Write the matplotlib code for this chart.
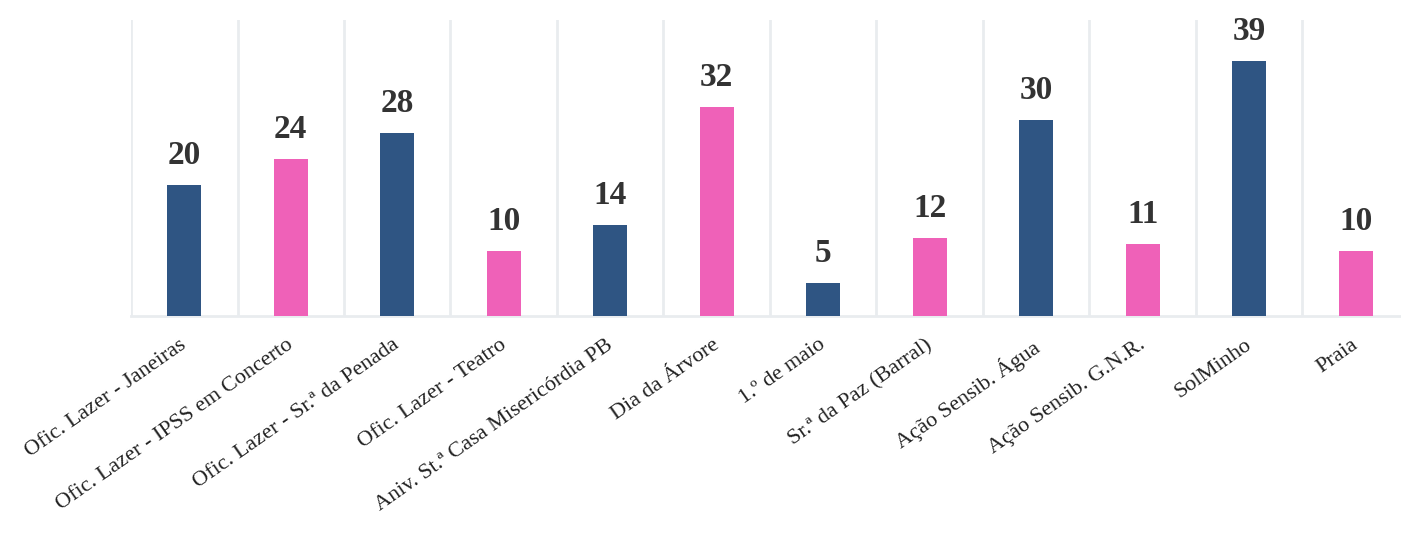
import matplotlib
matplotlib.use("Agg")
import matplotlib.pyplot as plt
import matplotlib.transforms as mtransforms

categories = [
    "Ofic. Lazer - Janeiras",
    "Ofic. Lazer - IPSS em Concerto",
    "Ofic. Lazer - Sr.ª da Penada",
    "Ofic. Lazer - Teatro",
    "Aniv. St.ª Casa Misericórdia PB",
    "Dia da Árvore",
    "1.º de maio",
    "Sr.ª da Paz (Barral)",
    "Ação Sensib. Água",
    "Ação Sensib. G.N.R.",
    "SolMinho",
    "Praia",
]
values = [20, 24, 28, 10, 14, 32, 5, 12, 30, 11, 39, 10]
bar_colors = ["#2F5583", "#EF61B8", "#2F5583", "#EF61B8", "#2F5583", "#EF61B8",
              "#2F5583", "#EF61B8", "#2F5583", "#EF61B8", "#2F5583", "#EF61B8"]

plt.rcParams['font.family'] = ['Liberation Serif', 'DejaVu Serif']

fig = plt.figure(figsize=(14.01, 5.33), dpi=100)
ax = fig.add_axes([131 / 1401, (533 - 316) / 533, 1278 / 1401, 296 / 533])

x = list(range(len(categories)))
bars = ax.bar(x, values, width=0.32, color=bar_colors, zorder=3)

for rect, v in zip(bars, values):
    ax.annotate(str(v), (rect.get_x() + rect.get_width() / 2, v),
                xytext=(0, 10), textcoords="offset points",
                ha="center", va="bottom", fontsize=24, fontweight="bold",
                color="#333333")

ax.set_xlim(-0.5, len(categories) - 0.5)
ax.set_ylim(0, 45.3)

# vertical separators between categories
for b in range(len(categories) + 1):
    ax.axvline(b - 0.5, color="#E9ECEF", lw=2, zorder=1)

ax.set_xticks(x)
ax.set_xticklabels(categories, rotation=35, ha="right", rotation_mode="anchor",
                   fontsize=16, color="#222222")
ax.tick_params(axis="x", length=0, pad=14)
shift = mtransforms.ScaledTranslation(-5 / 100, 0, fig.dpi_scale_trans)
for lbl in ax.get_xticklabels():
    lbl.set_transform(lbl.get_transform() + shift)
ax.set_yticks([])
for s in ["top", "left", "right"]:
    ax.spines[s].set_visible(False)
ax.spines["bottom"].set_color("#E9ECEF")
ax.spines["bottom"].set_linewidth(2)

fig.savefig("out.png", dpi=100)
